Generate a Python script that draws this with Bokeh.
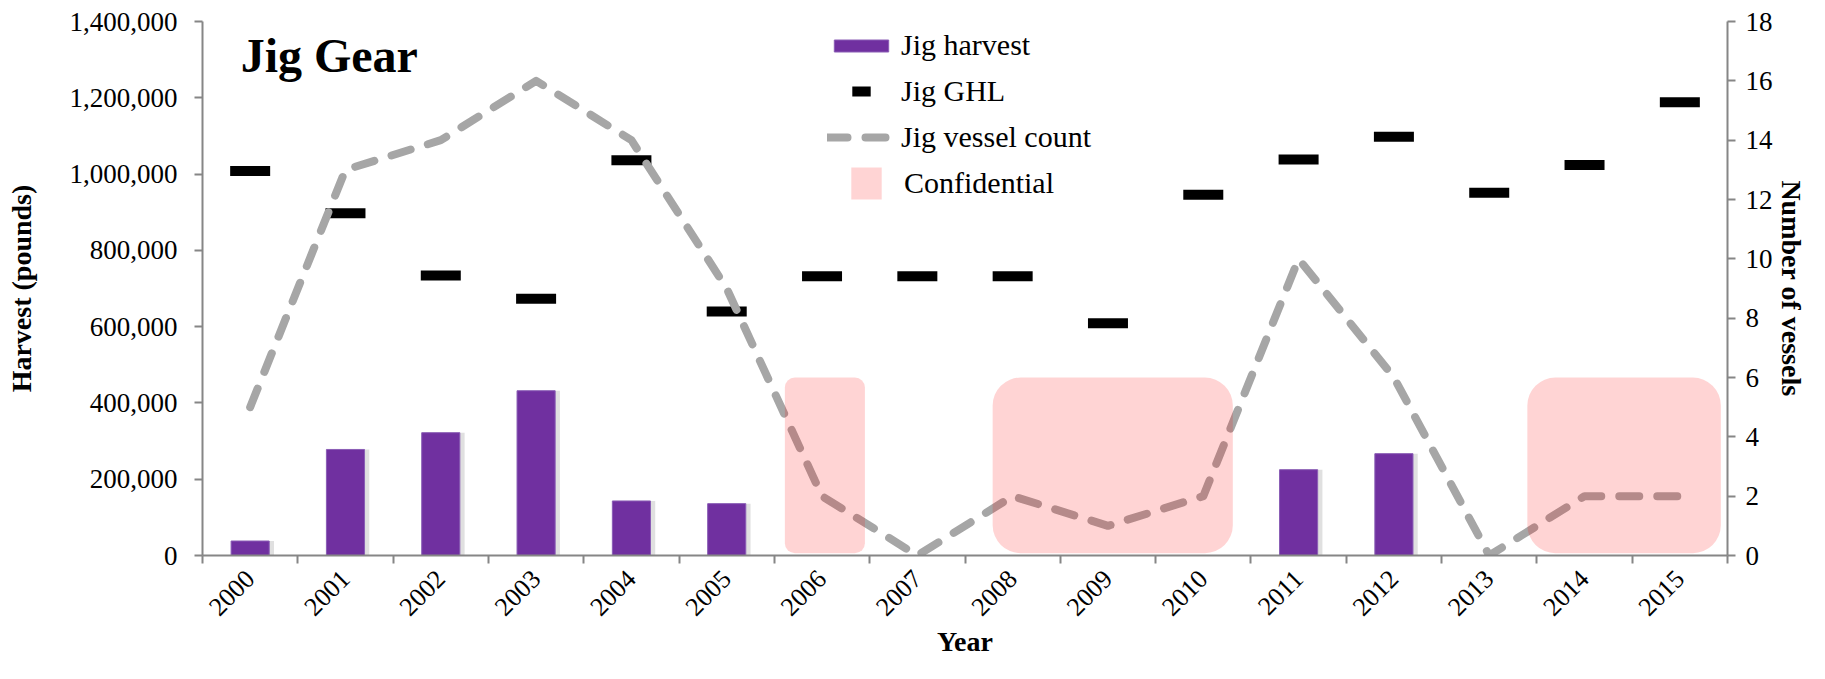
import math
from bokeh.plotting import figure
from bokeh.models import (Range1d, LinearAxis, FixedTicker, Legend, LegendItem, Label,
                          ColumnDataSource, NumeralTickFormatter)
from bokeh.transform import dodge
from bokeh.embed import file_html
from bokeh.resources import INLINE

# ---------------- data ----------------
years = ["2000", "2001", "2002", "2003", "2004", "2005", "2006", "2007",
         "2008", "2009", "2010", "2011", "2012", "2013", "2014", "2015"]
nan = float("nan")
jig_harvest = [38000, 278000, 322000, 432000, 143000, 136000, nan, nan,
               nan, nan, nan, 225000, 267000, nan, nan, nan]
jig_ghl = [1008000, 897000, 734000, 673000, 1036000, 640000, 732000, 732000,
           732000, 609000, 946000, 1038000, 1098000, 951000, 1024000, 1188000]
jig_vessels = [5, 13, 14, 16, 14, 9, 2, 0, 2, 1, 2, 10, 6, 0, 2, 2]
conf_first = ["2006", "2008", "2014"]
conf_last = ["2006", "2010", "2015"]
conf_top_vessels = [6, 6, 6]
left_ticks = [0, 200000, 400000, 600000, 800000, 1000000, 1200000, 1400000]
right_ticks = [0, 2, 4, 6, 8, 10, 12, 14, 16, 18]

# ---------------- styling / layout ----------------
FONT = "Liberation Serif"
AXIS_GREY = "#868686"
PURPLE = "#7030A0"
conf_pad_left = [0.39, 0.21, 0.60]
conf_pad_right = [0.45, 0.31, 0.43]
conf_radius = [10, 28, 28]

idx = list(range(len(years)))
src = ColumnDataSource(dict(x=idx, harvest=jig_harvest, ghl=jig_ghl, vessels=jig_vessels))

p = figure(width=1809, height=663, x_range=Range1d(-0.5, len(years) - 0.5),
           y_range=Range1d(0, 1400000), output_backend="svg", toolbar_location=None,
           min_border_left=202, min_border_right=81, min_border_top=21, min_border_bottom=108)
p.extra_y_ranges = {"vessels": Range1d(0, 18)}
p.xgrid.visible = False
p.ygrid.visible = False
p.outline_line_color = None
p.background_fill_color = "white"

# bars with a soft shadow
p.vbar(x=dodge("x", 0.05), top="harvest", width=0.4, source=src,
       fill_color="#555555", fill_alpha=0.18, line_color=None)
bars = p.vbar(x="x", top="harvest", width=0.4, source=src,
              fill_color=PURPLE, line_color="#8A5DB5", line_width=1)

# GHL markers
ghl_r = p.scatter(x="x", y="ghl", source=src, marker="dash", size=40,
                  line_color="black", line_width=10)

# vessel count line
ves_r = p.line(x="x", y="vessels", source=src, y_range_name="vessels",
               line_color="#A6A6A6", line_width=8, line_dash="20 18",
               line_cap="round", line_join="round")

# confidential boxes
conf_r = None
for f, l, t, pl, pr, rad in zip(conf_first, conf_last, conf_top_vessels,
                                  conf_pad_left, conf_pad_right, conf_radius):
    csrc = ColumnDataSource(dict(left=[years.index(f) - pl], right=[years.index(l) + pr],
                                 bottom=[0.08], top=[t]))
    r = p.quad(left="left", right="right", bottom="bottom", top="top", source=csrc,
               y_range_name="vessels", fill_color="red", fill_alpha=0.17,
               line_color=None, border_radius=rad)
    if conf_r is None:
        conf_r = r

# ---------------- axes ----------------
xa = p.xaxis[0]
xa.ticker = FixedTicker(ticks=idx, minor_ticks=[i - 0.5 for i in range(len(years) + 1)])
xa.major_label_overrides = {i: y for i, y in enumerate(years)}
xa.major_label_orientation = math.pi / 4
xa.major_tick_line_color = None
xa.major_tick_out = 8
xa.major_tick_in = 0
xa.minor_tick_out = 8
xa.minor_tick_in = 0
xa.minor_tick_line_color = AXIS_GREY
xa.minor_tick_line_width = 2
xa.axis_line_color = AXIS_GREY
xa.axis_line_width = 2
xa.major_label_standoff = 11
xa.major_label_text_font = FONT
xa.major_label_text_font_size = "26px"
xa.major_label_text_color = "black"
xa.axis_label = "Year"
xa.axis_label_text_font = FONT
xa.axis_label_text_font_size = "28px"
xa.axis_label_text_font_style = "bold"
xa.axis_label_text_color = "black"
xa.axis_label_standoff = 0

ya = p.yaxis[0]
ya.ticker = FixedTicker(ticks=left_ticks)
ya.formatter = NumeralTickFormatter(format="0,0")
ya.axis_label = "Harvest (pounds)"

yb = LinearAxis(y_range_name="vessels", ticker=FixedTicker(ticks=right_ticks),
                axis_label="Number of vessels")
p.add_layout(yb, "right")

for ax in (ya, yb):
    ax.axis_line_color = AXIS_GREY
    ax.axis_line_width = 2
    ax.major_tick_line_color = AXIS_GREY
    ax.major_tick_line_width = 2
    ax.major_tick_out = 8
    ax.major_tick_in = 0
    ax.minor_tick_line_color = None
    ax.major_label_text_font = FONT
    ax.major_label_text_font_size = "27px"
    ax.major_label_text_color = "black"
    ax.axis_label_text_font = FONT
    ax.axis_label_text_font_size = "28px"
    ax.axis_label_text_font_style = "bold"
    ax.axis_label_text_color = "black"
ya.major_label_standoff = 17
yb.major_label_standoff = 10
ya.axis_label_standoff = 30
yb.axis_label_standoff = 0

# ---------------- title ----------------
p.add_layout(Label(x=-0.10, y=1310000, text="Jig Gear", text_font=FONT,
                   text_font_size="48px", text_font_style="bold", text_color="black",
                   text_baseline="middle", text_align="left"))

# ---------------- legends ----------------
common = dict(padding=0, margin=0, spacing=0, border_line_color=None,
              background_fill_alpha=0, label_text_font=FONT,
              label_text_font_size="30px", label_text_color="black")
leg1 = Legend(items=[LegendItem(label="Jig harvest", renderers=[bars])],
              location=(625, 490), glyph_width=68, glyph_height=15, label_height=40,
              label_standoff=6, **common)
leg2 = Legend(items=[LegendItem(label="Jig GHL", renderers=[ghl_r]),
                     LegendItem(label="Jig vessel count", renderers=[ves_r])],
              location=(625, 395), glyph_width=68, glyph_height=46, label_height=46,
              label_standoff=6, **common)
leg3 = Legend(items=[LegendItem(label="Confidential", renderers=[conf_r])],
              location=(645, 352), glyph_width=38, glyph_height=40, label_height=40,
              label_standoff=19, **common)
for lg in (leg1, leg2, leg3):
    p.add_layout(lg)

open("out.html", "w").write(file_html(p, INLINE))
